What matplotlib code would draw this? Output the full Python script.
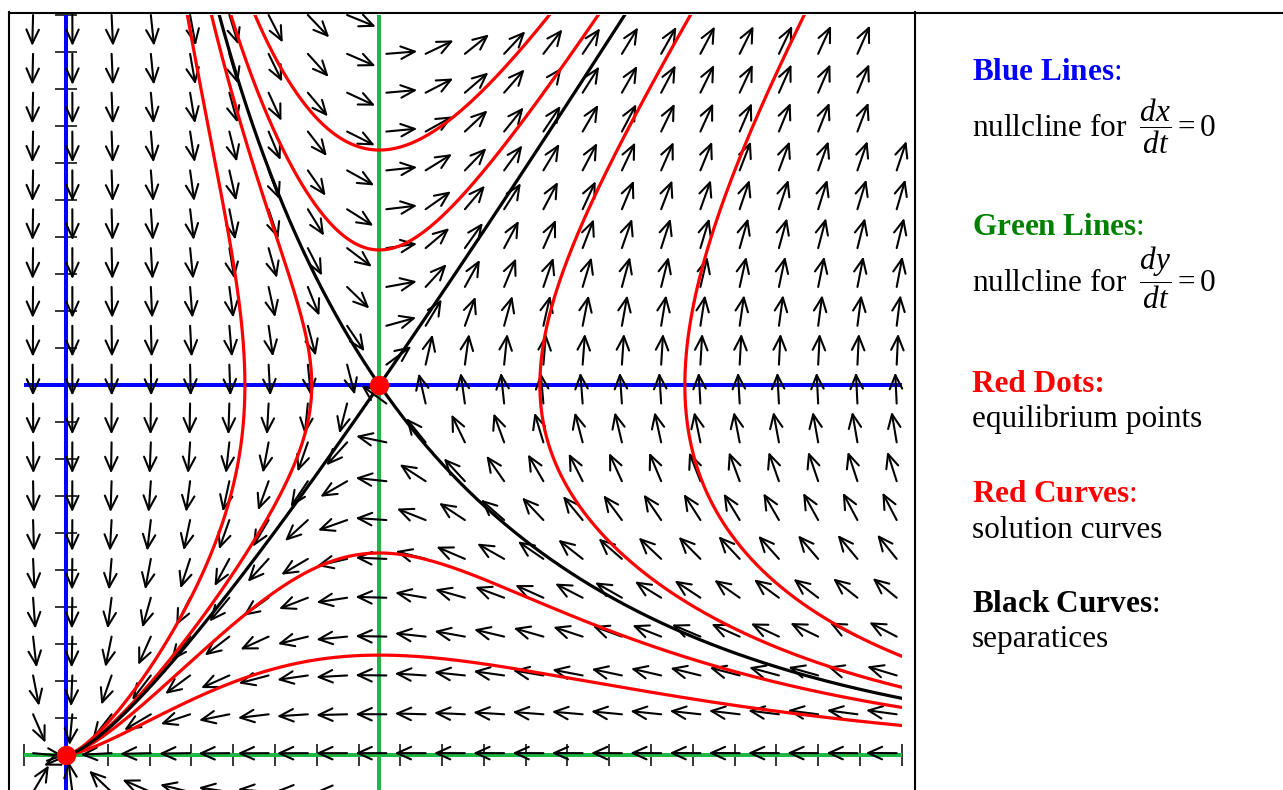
import numpy as np
import matplotlib
matplotlib.use("Agg")
import matplotlib.pyplot as plt
from matplotlib.lines import Line2D

# system: dx/dt = k*x*(y - b),  dy/dt = y*(x - a)
a_null = 7.5     # green vertical nullcline x = a
b_null = 10.0    # blue horizontal nullcline y = b
k_rate = 0.5

# points where each red solution curve crosses a nullcline
red_x0 = [7.5, 7.5, 4.28, 5.88, 11.34, 14.81, 7.5, 7.5]
red_y0 = [16.35, 13.65, 10.0, 10.0, 10.0, 10.0, 5.46, 2.70]

eq_x = [0.0, a_null]
eq_y = [0.0, b_null]

x_ticks = np.arange(-1, 21)
y_ticks = np.arange(-1, 21)
arrow_cols = np.linspace(-0.79, 19.88, 23)
arrow_rows = np.linspace(-1, 20, 21)

plt.rcParams["font.family"] = "Liberation Serif"
plt.rcParams["mathtext.fontset"] = "custom"
plt.rcParams["mathtext.rm"] = "Liberation Serif"
plt.rcParams["mathtext.it"] = "Liberation Serif:italic"
plt.rcParams["mathtext.bf"] = "Liberation Serif:bold"

W, H = 1283, 790
fig = plt.figure(figsize=(W / 100, H / 100), dpi=100)
ax = fig.add_axes([24.3 / W, (H - 792) / H, 877.4 / W, 777 / H])
ax.set_xlim(-1, 20)
ax.set_ylim(-1, 20)
ax.patch.set_visible(False)
ax.spines["left"].set_position(("data", 0))
ax.spines["bottom"].set_position(("data", 0))
ax.spines["left"].set_linewidth(0)
ax.spines["bottom"].set_linewidth(0)
ax.spines["top"].set_visible(False)
ax.spines["right"].set_visible(False)
ax.set_xticks(x_ticks)
ax.set_yticks(y_ticks)
ax.tick_params(direction="inout", length=16, width=1.1, labelbottom=False, labelleft=False)

green = "#1fb845"
ax.axvline(0, color="blue", lw=2.9, zorder=2)
ax.axhline(b_null, color="blue", lw=2.9, zorder=2)
ax.axhline(0, color=green, lw=2.9, zorder=2)
ax.axvline(a_null, color=green, lw=2.9, zorder=2)

sx, sy = np.diff(ax.transData.transform([(0, 0), (1, 1)]), axis=0)[0]


def field(x, y):
    return k_rate * x * (y - b_null), y * (x - a_null)


# direction field, fixed length arrows (dropped when they would leave the view)
L = 31
for yv in arrow_rows:
    for xv in arrow_cols:
        u, v = field(xv, yv)
        n = np.hypot(u * sx, v * sy)
        tx = xv + u / n * L
        ty = yv + v / n * L
        if not (-1 <= tx <= 20.115 and -1 <= ty <= 20.0):
            continue
        ax.annotate("", xy=(tx, ty), xytext=(xv, yv), annotation_clip=False,
                    arrowprops=dict(arrowstyle="->,head_length=1.0,head_width=0.45",
                                    lw=1.5, color="black", shrinkA=0, shrinkB=0),
                    zorder=3)


def trace(x0, y0, sign, h=1.0, nmax=6000):
    def d(x, y):
        u, v = field(x, y)
        px, py = u * sx, v * sy
        n = np.hypot(px, py)
        if n == 0:
            return 0.0, 0.0
        return sign * px / n * h / sx, sign * py / n * h / sy

    x, y = x0, y0
    pts = [(x, y)]
    for _ in range(nmax):
        k1 = d(x, y)
        k2 = d(x + k1[0] / 2, y + k1[1] / 2)
        k3 = d(x + k2[0] / 2, y + k2[1] / 2)
        k4 = d(x + k3[0], y + k3[1])
        x += (k1[0] + 2 * k2[0] + 2 * k3[0] + k4[0]) / 6
        y += (k1[1] + 2 * k2[1] + 2 * k3[1] + k4[1]) / 6
        pts.append((x, y))
        if not (-1.05 <= x <= 20.05 and -1.05 <= y <= 20.05):
            break
        if np.hypot(x * sx, y * sy) < 1.0:
            break
    return np.array(pts)


for x0, y0 in zip(red_x0, red_y0):
    back = trace(x0, y0, -1)[::-1]
    fwd = trace(x0, y0, 1)
    c = np.vstack([back, fwd])
    ax.plot(c[:, 0], c[:, 1], color="red", lw=2.3, zorder=4)

# separatrices through the saddle
lam = np.sqrt(k_rate * a_null * b_null)
for ev, sign in [((k_rate * a_null, lam), 1), ((k_rate * a_null, -lam), -1)]:
    e = np.array(ev) / np.hypot(*ev)
    for s in (1, -1):
        c = trace(a_null + s * 0.01 * e[0], b_null + s * 0.01 * e[1], sign)
        c = np.vstack([[a_null, b_null], c])
        ax.plot(c[:, 0], c[:, 1], color="black", lw=2.3, zorder=4.5)

ax.plot(eq_x, eq_y, "o", color="red", ms=13, zorder=6, clip_on=False)

# table borders
for xs, ys in [([9, W], [12.7, 12.7]), ([9.3, 9.3], [12, H]), ([915, 915], [12, H])]:
    fig.add_artist(Line2D([x / W for x in xs], [1 - y / H for y in ys],
                          transform=fig.transFigure, color="black", lw=1.5))

fs = 22.5
tx0 = 972 / W


def put(y, s, color="black", weight="normal"):
    fig.text(tx0, 1 - y / H, s, color=color, fontsize=fs, fontweight=weight, va="baseline")


put(80, r"$\mathbf{Blue\ Lines}$:", color="blue")
put(137, r"nullcline for $\;\dfrac{dx}{dt}=0$")
put(235, r"$\mathbf{Green\ Lines}$:", color="green")
put(292, r"nullcline for $\;\dfrac{dy}{dt}=0$")
put(392, "Red Dots:", color="red", weight="bold")
put(427, "equilibrium points")
put(502, r"$\mathbf{Red\ Curves}$:", color="red")
put(538, "solution curves")
put(612, r"$\mathbf{Black\ Curves}$:")
put(647, "separatices")

fig.savefig("out.png", dpi=100, facecolor="white")
